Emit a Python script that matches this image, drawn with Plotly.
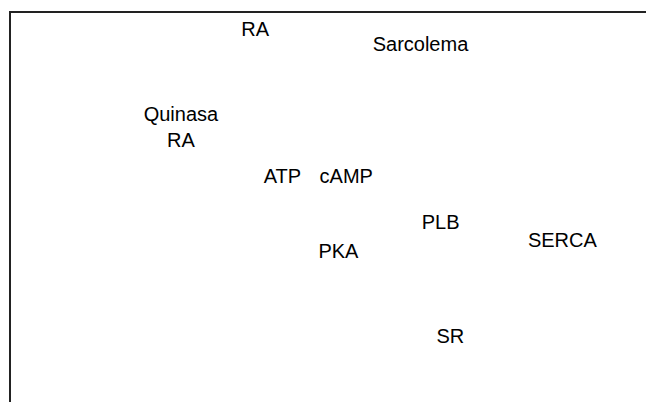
import plotly.graph_objects as go

# Diagram labels and their positions (nominal 0-100 coordinates, y up)
labels = ["RA", "Sarcolema", "Quinasa<br>RA", "ATP", "cAMP", "PLB", "SERCA", "PKA", "SR"]
x_pos = [37.5, 62.9, 26.1, 41.7, 51.5, 66.0, 84.7, 50.3, 67.5]
y_pos = [95.4, 91.6, 70.8, 58.4, 58.4, 46.9, 42.3, 39.6, 18.2]

fig = go.Figure()
fig.add_trace(go.Scatter(
    x=x_pos, y=y_pos, text=labels, mode="text",
    textposition="middle center",
    textfont=dict(family="Liberation Sans, Arial, sans-serif", size=20, color="#000000"),
    hoverinfo="skip", showlegend=False,
))

fig.update_layout(
    width=654, height=402,
    margin=dict(l=3, r=0, t=5, b=0),
    paper_bgcolor="white", plot_bgcolor="white",
    showlegend=False,
)
fig.update_xaxes(range=[0, 100], side="top", showline=True, linecolor="#222222", linewidth=1.5,
                 showgrid=False, zeroline=False, showticklabels=False, ticks="")
fig.update_yaxes(range=[0, 100], showline=True, linecolor="#222222", linewidth=1.5,
                 showgrid=False, zeroline=False, showticklabels=False, ticks="")

fig.write_html("out.html")
